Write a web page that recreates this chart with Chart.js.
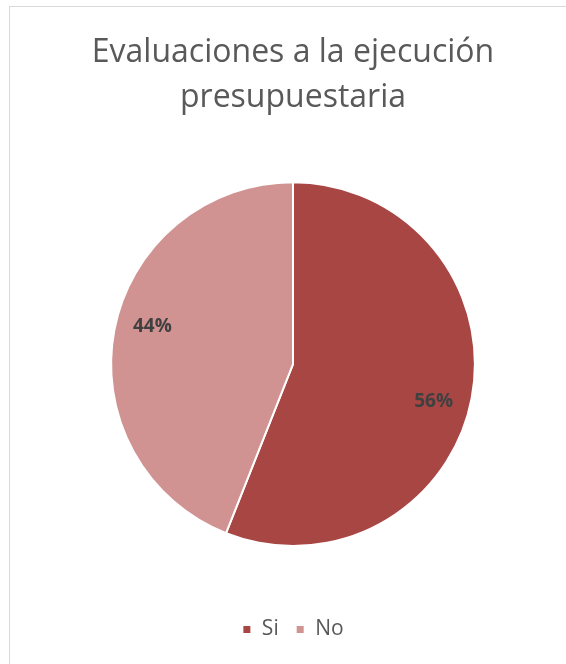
<!DOCTYPE html>
<html>
<head>
<meta charset="utf-8">
<script src="https://cdn.jsdelivr.net/npm/chart.js@4"></script>
<style>
  html, body { margin: 0; padding: 0; background: #fff; }
  #wrap { position: relative; width: 566px; height: 664px; overflow: hidden; }
  #frame { position: absolute; left: 9px; top: 6px; width: 700px; height: 800px; border: 1px solid #d9d9d9; }
  #c { position: absolute; left: 0; top: 0; }
</style>
</head>
<body>
<div id="wrap">
  <div id="frame"></div>
  <canvas id="c" width="566" height="664"></canvas>
</div>
<script>
const titleLines = ['Evaluaciones a la ejecución', 'presupuestaria'];
const categories = ['Si', 'No'];
const values = [56, 44];
const colors = ['#a84644', '#d09391'];

// porcentajes sobre cada sector
const pctLabels = {
  id: 'pctLabels',
  afterDatasetsDraw(chart) {
    const ctx = chart.ctx;
    const meta = chart.getDatasetMeta(0);
    const total = values.reduce((a, b) => a + b, 0);
    ctx.save();
    ctx.font = 'bold 19px "Open Sans"';
    ctx.fillStyle = '#404040';
    ctx.textAlign = 'center';
    ctx.textBaseline = 'middle';
    meta.data.forEach((arc, i) => {
      const p = arc.getProps(['x', 'y', 'startAngle', 'endAngle', 'outerRadius'], true);
      const mid = (p.startAngle + p.endAngle) / 2 + 0.072;
      const r = p.outerRadius * 0.8;
      const txt = Math.round(values[i] / total * 100) + '%';
      ctx.fillText(txt, p.x + Math.cos(mid) * r, p.y + Math.sin(mid) * r);
    });
    ctx.restore();
  }
};

const ctxx = document.getElementById('c').getContext('2d');
const myChart = new Chart(ctxx, {
  type: 'pie',
  data: {
    labels: categories,
    datasets: [{
      data: values,
      backgroundColor: colors,
      borderColor: '#ffffff',
      borderWidth: 2
    }]
  },
  options: {
    responsive: false,
    animation: false,
    layout: { padding: { left: 20, right: 0, top: 0, bottom: 14 } },
    plugins: {
      title: {
        display: true,
        text: titleLines,
        color: '#595959',
        font: { family: 'Open Sans', size: 32, weight: 'normal', lineHeight: 1.41 },
        padding: { top: 30, bottom: 61 }
      },
      legend: {
        position: 'bottom',
        title: {
          display: true,
          text: ' ',
          font: { size: 10, lineHeight: 1.2 },
          padding: { top: 43, bottom: 0 }
        },
        labels: {
          color: '#595959',
          font: { family: 'Open Sans', size: 21 },
          boxWidth: 9,
          boxHeight: 9,
          padding: 17
        }
      },
      tooltip: { enabled: false }
    }
  },
  plugins: [pctLabels]
});
</script>
</body>
</html>
